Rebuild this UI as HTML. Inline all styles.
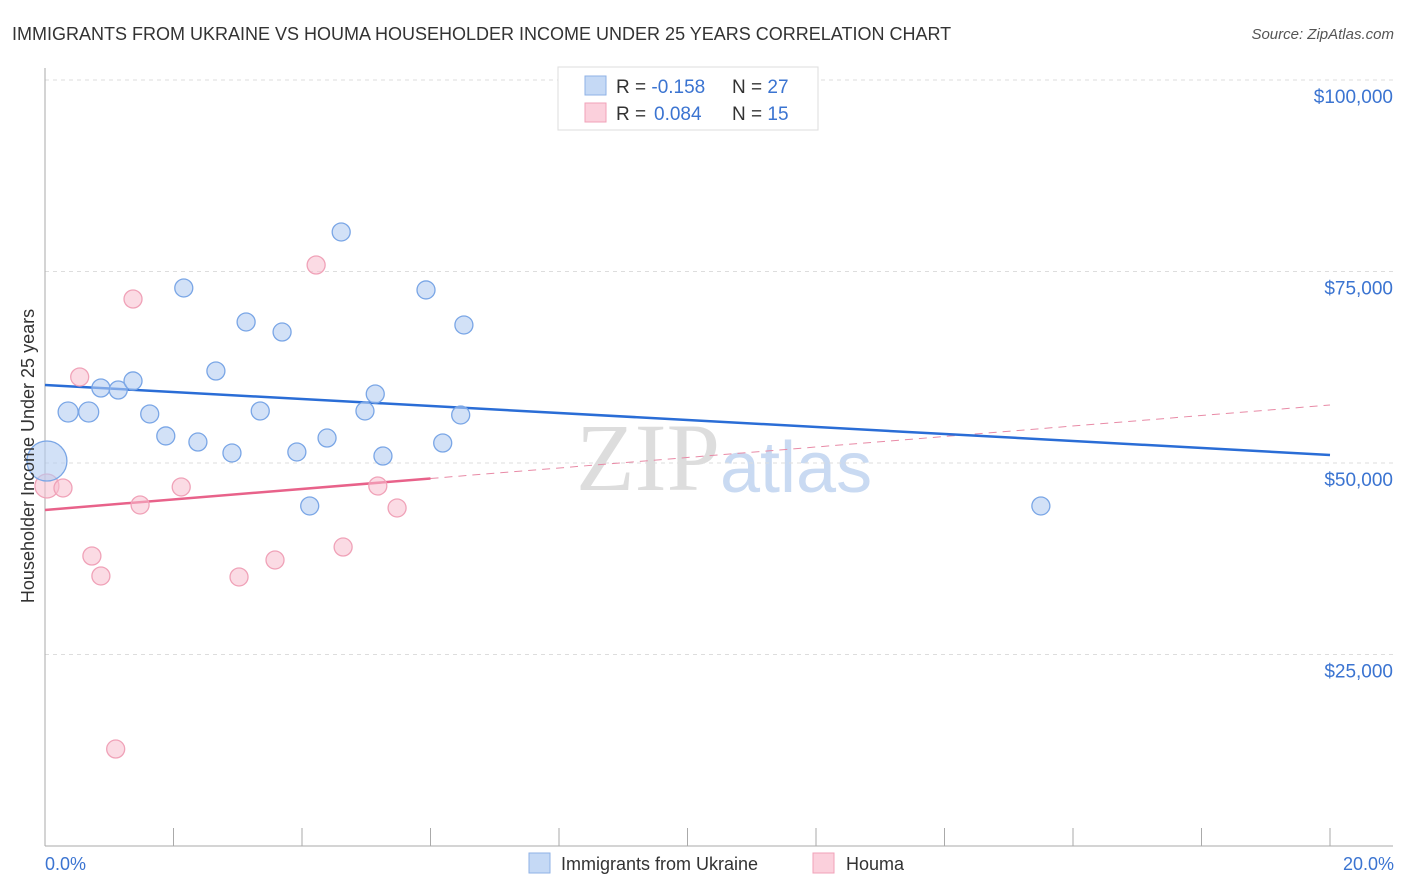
<!DOCTYPE html>
<html><head><meta charset="utf-8"><style>
body{margin:0;background:#fff;font-family:"Liberation Sans",sans-serif;}
svg{display:block}
</style></head><body>
<svg width="1406" height="892">
<text x="12" y="40" font-size="18" fill="#333">IMMIGRANTS FROM UKRAINE VS HOUMA HOUSEHOLDER INCOME UNDER 25 YEARS CORRELATION CHART</text>
<text x="1394" y="39" font-size="15" fill="#555" font-style="italic" text-anchor="end">Source: ZipAtlas.com</text>
<text x="720" y="490" font-size="96" fill="#ddd" text-anchor="end" font-family="Liberation Serif">ZIP</text>
<text x="720" y="492" font-size="72" fill="#c9daf2">atlas</text>
<g id="grid"></g><g id="axes"></g><g id="lines"></g><g id="points"></g>
<text transform="translate(34,456) rotate(-90)" font-size="18" fill="#333" text-anchor="middle">Householder Income Under 25 years</text>
<text x="45" y="870" font-size="18" fill="#3b74d1">0.0%</text>
<text x="1394" y="870" font-size="18" fill="#3b74d1" text-anchor="end">20.0%</text>
<g>
<rect x="558" y="67" width="260" height="63" fill="#fff" stroke="#ddd"/>
<rect x="585" y="76" width="21" height="19" fill="#c5d9f5" stroke="#8fb2e6"/>
<rect x="585" y="103" width="21" height="19" fill="#fbd0dc" stroke="#f0a2b8"/>
<text x="616" y="93" font-size="19" fill="#333">R = <tspan fill="#3b74d1">-0.158</tspan><tspan x="732">N = </tspan><tspan fill="#3b74d1">27</tspan></text>
<text x="616" y="120" font-size="19" fill="#333">R = <tspan fill="#3b74d1" x="654">0.084</tspan><tspan x="732">N = </tspan><tspan fill="#3b74d1">15</tspan></text>
</g>
<g>
<rect x="529" y="853" width="21" height="20" fill="#c5d9f5" stroke="#8fb2e6"/>
<text x="561" y="870" font-size="18" fill="#333">Immigrants from Ukraine</text>
<rect x="813" y="853" width="21" height="20" fill="#fbd0dc" stroke="#f0a2b8"/>
<text x="846" y="870" font-size="18" fill="#333">Houma</text>
</g>
</svg>
<script>
const yTicks=[25000,50000,75000,100000];
const yTickLabels=["$25,000","$50,000","$75,000","$100,000"];
const blueX=[0.03,0.36,0.68,0.87,1.14,1.37,1.63,1.88,2.16,2.38,2.66,2.91,3.13,3.35,3.69,3.92,4.12,4.39,4.61,4.98,5.14,5.26,5.93,6.19,6.47,6.52,15.5];
const blueY=[50260,56660,56660,59790,59530,60710,56400,53530,72850,52740,62010,51310,68410,56790,67100,51440,44390,53260,80160,56790,59010,50910,72590,52610,56270,68020,44390];
const blueR=[20,10,10,9,9,9,9,9,9,9,9,9,9,9,9,9,9,9,9,9,9,9,9,9,9,9,9];
const pinkX=[0.03,0.28,0.54,0.73,0.87,1.10,1.37,1.48,2.12,3.02,3.58,4.22,4.64,5.18,5.48];
const pinkY=[47000,46740,61230,37860,35250,12660,71410,44520,46870,35120,37340,75850,39030,47000,44130];
const pinkR=[12,9,9,9,9,9,9,9,9,9,9,9,9,9,9];
const blueTrend=[60180,51050];
const pinkTrend=[43870,57570];
const pinkSolidEnd=6;
const NS="http://www.w3.org/2000/svg";
const X=p=>45+p*64.25, Y=v=>846-v/25000*191.5;
function mk(t,a,parent){const e=document.createElementNS(NS,t);for(const k in a)e.setAttribute(k,a[k]);document.getElementById(parent).appendChild(e);return e;}
yTicks.forEach((v,i)=>{
 let l=mk('line',{x1:45,x2:1393,y1:Y(v),y2:Y(v),stroke:'#ddd','stroke-dasharray':'4,4'},'grid');
 
 
 let t=mk('text',{x:1393,y:Y(v)+23,'font-size':19,fill:'#3b74d1','text-anchor':'end'},'grid');
 t.textContent=yTickLabels[i];
 
 
});
let ya=mk('line',{x1:45,x2:45,y1:68,y2:846,stroke:'#aaa'},'axes');


let xa=mk('line',{x1:45,x2:1393,y1:846,y2:846,stroke:'#aaa'},'axes');


for(let i=0;i<=10;i++){let t=mk('line',{x1:X(i*2),x2:X(i*2),y1:828,y2:846,stroke:'#aaa'},'axes');
 
 }
const pAt=p=>pinkTrend[0]+(pinkTrend[1]-pinkTrend[0])*p/20;
let pd=mk('line',{x1:X(pinkSolidEnd),y1:Y(pAt(pinkSolidEnd)),x2:X(20),y2:Y(pinkTrend[1]),stroke:'#e88aa6','stroke-dasharray':'8,6','stroke-width':1},'lines');


let ps=mk('line',{x1:X(0),y1:Y(pinkTrend[0]),x2:X(pinkSolidEnd),y2:Y(pAt(pinkSolidEnd)),stroke:'#e8628a','stroke-width':2.5},'lines');


let bl=mk('line',{x1:X(0),y1:Y(blueTrend[0]),x2:X(20),y2:Y(blueTrend[1]),stroke:'#2a6dd6','stroke-width':2.5},'lines');


pinkX.forEach((x,i)=>{let c=mk('circle',{cx:X(x),cy:Y(pinkY[i]),r:pinkR[i],fill:'rgba(248,190,206,0.55)',stroke:'#f0a2b8','stroke-width':1.3},'points');
 
 });
blueX.forEach((x,i)=>{let c=mk('circle',{cx:X(x),cy:Y(blueY[i]),r:blueR[i],fill:'rgba(180,205,242,0.6)',stroke:'#7aa6e6','stroke-width':1.3},'points');
 
 });
</script>
</body></html>
